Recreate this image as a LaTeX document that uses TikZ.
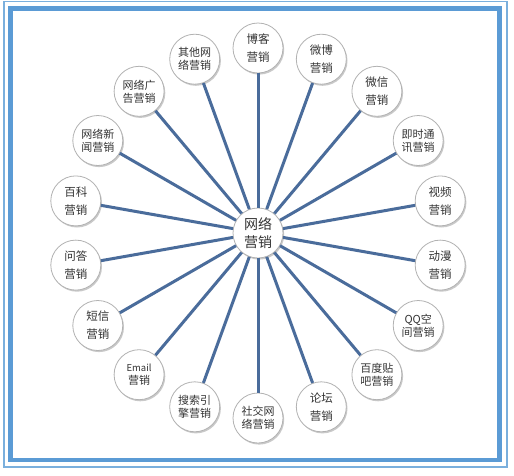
\documentclass[tikz,border=0pt]{standalone}
\usepackage{fontspec}
\newfontfamily\cjk{Noto Sans CJK SC}
\usetikzlibrary{shadows}
\definecolor{framecol}{HTML}{5B9BD5}
\definecolor{framethin}{HTML}{7AAFDD}
\definecolor{spokecol}{HTML}{4A6C9B}
\definecolor{txtcol}{HTML}{333333}
\tikzset{
  bubble/.style={circle, draw=gray!60, line width=0.8pt, fill=white, minimum size=50pt, inner sep=0pt, align=center, text=txtcol,
    drop shadow={shadow xshift=1.2pt, shadow yshift=-1.6pt, opacity=0.35, fill=black!60}},
  loose/.style={bubble, font=\cjk\fontsize{11.5}{18}\selectfont},
  tight/.style={bubble, font=\cjk\fontsize{11}{13}\selectfont},
  hub/.style={bubble, font=\cjk\fontsize{14}{17.5}\selectfont},
  spoke/.style={draw=spokecol, line width=3pt}
}
\begin{document}
\begin{tikzpicture}[x=1pt,y=-1pt]
\useasboundingbox (0,0) rectangle (514,475);
\fill[white] (0,0) rectangle (514,475);
\draw[framethin, line width=1.5pt] (4,1.5) rectangle (507,467);
\draw[framecol, line width=4.5pt] (10.5,8.5) rectangle (499.5,460);

\node[hub] (c) at (258,233) {网络\\营销};

\node[loose] (n90)  at (258,48)      {博客\\营销};
\node[loose] (n70)  at (321.3,59.2)  {微博\\营销};
\node[loose] (n50)  at (376.9,91.3)  {微信\\营销};
\node[tight] (n30)  at (418.2,140.5) {即时通\\讯营销};
\node[loose] (n10)  at (440.2,200.9) {视频\\营销};
\node[loose] (nm10) at (440.2,265.1) {动漫\\营销};
\node[tight] (nm30) at (418.2,325.5) {QQ空\\间营销};
\node[tight] (nm50) at (376.9,374.7) {百度贴\\吧营销};
\node[loose] (nm70) at (321.3,406.8) {论坛\\营销};
\node[tight] (nm90) at (258,418)     {社交网\\络营销};
\node[tight] (nm110) at (194.7,406.8) {搜索引\\擎营销};
\node[tight] (nm130) at (139.1,374.7) {{\fontsize{9.5}{13}\selectfont Email}\\营销};
\node[loose] (nm150) at (97.8,325.5)  {短信\\营销};
\node[loose] (nm170) at (75.8,265.1)  {问答\\营销};
\node[loose] (n170) at (75.8,200.9)  {百科\\营销};
\node[tight] (n150) at (97.8,140.5)  {网络新\\闻营销};
\node[tight] (n130) at (139.1,91.3)  {网络广\\告营销};
\node[tight] (n110) at (194.7,59.2)  {其他网\\络营销};

\foreach \n in {n90,n70,n50,n30,n10,nm10,nm30,nm50,nm70,nm90,nm110,nm130,nm150,nm170,n170,n150,n130,n110}
  \draw[spoke] (c) -- (\n);
\end{tikzpicture}
\end{document}
